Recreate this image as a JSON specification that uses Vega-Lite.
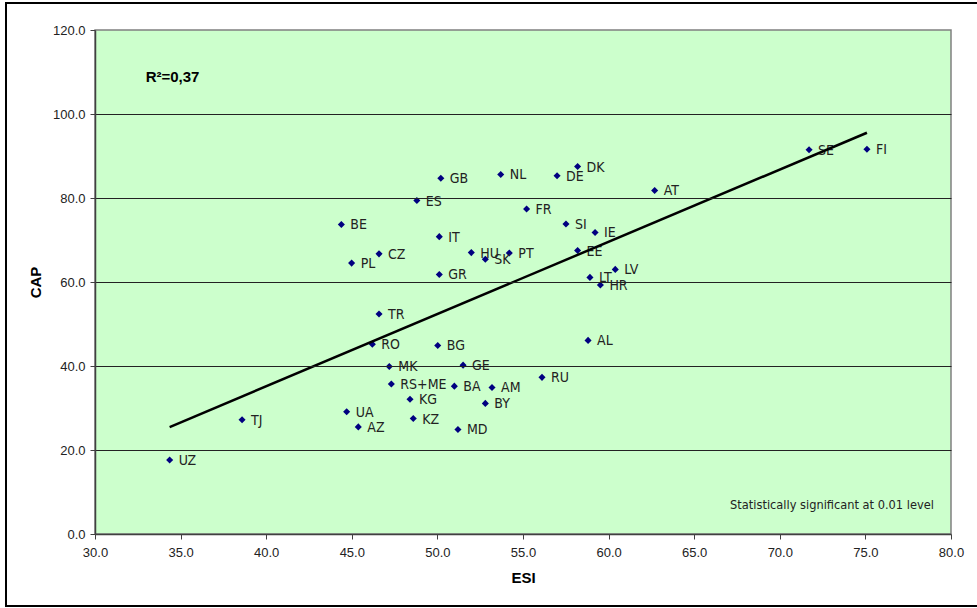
{
  "$schema": "https://vega.github.io/schema/vega-lite/v6.json",
  "width": 971,
  "height": 603,
  "autosize": {"type": "none"},
  "padding": {"left": 6, "top": 3, "right": 0, "bottom": 2},
  "background": "white",
  "view": {"stroke": "black", "strokeWidth": 2, "fill": "white", "strokeDash": [971, 603, 1574], "strokeCap": "butt"},
  "config": {
    "view": {"stroke": "black", "strokeWidth": 2, "fill": "white", "strokeDash": [971, 603, 1574]},
    "style": {"cell": {"strokeDash": [971, 603, 1574]}},
    "font": "Liberation Sans"
  },
  "data": {
    "values": [
      {"country": "UZ", "ESI": 34.36, "CAP": 17.6},
      {"country": "TJ", "ESI": 38.59, "CAP": 27.2},
      {"country": "UA", "ESI": 44.70, "CAP": 29.1},
      {"country": "AZ", "ESI": 45.38, "CAP": 25.5},
      {"country": "BE", "ESI": 44.39, "CAP": 73.7},
      {"country": "PL", "ESI": 44.99, "CAP": 64.5},
      {"country": "RO", "ESI": 46.20, "CAP": 45.2},
      {"country": "TR", "ESI": 46.59, "CAP": 52.4},
      {"country": "CZ", "ESI": 46.59, "CAP": 66.7},
      {"country": "MK", "ESI": 47.19, "CAP": 39.9},
      {"country": "RS+ME", "ESI": 47.31, "CAP": 35.7},
      {"country": "KG", "ESI": 48.40, "CAP": 32.1},
      {"country": "KZ", "ESI": 48.59, "CAP": 27.5},
      {"country": "ES", "ESI": 48.80, "CAP": 79.4},
      {"country": "BG", "ESI": 50.02, "CAP": 44.9},
      {"country": "IT", "ESI": 50.11, "CAP": 70.8},
      {"country": "GR", "ESI": 50.11, "CAP": 61.8},
      {"country": "GB", "ESI": 50.20, "CAP": 84.7},
      {"country": "BA", "ESI": 50.99, "CAP": 35.2},
      {"country": "MD", "ESI": 51.20, "CAP": 24.9},
      {"country": "GE", "ESI": 51.50, "CAP": 40.2},
      {"country": "HU", "ESI": 51.98, "CAP": 67.0},
      {"country": "SK", "ESI": 52.80, "CAP": 65.4},
      {"country": "BY", "ESI": 52.80, "CAP": 31.1},
      {"country": "AM", "ESI": 53.19, "CAP": 34.9},
      {"country": "NL", "ESI": 53.70, "CAP": 85.6},
      {"country": "PT", "ESI": 54.20, "CAP": 66.9},
      {"country": "FR", "ESI": 55.21, "CAP": 77.4},
      {"country": "RU", "ESI": 56.11, "CAP": 37.3},
      {"country": "DE", "ESI": 56.99, "CAP": 85.3},
      {"country": "SI", "ESI": 57.51, "CAP": 73.8},
      {"country": "DK", "ESI": 58.19, "CAP": 87.5},
      {"country": "EE", "ESI": 58.19, "CAP": 67.5},
      {"country": "AL", "ESI": 58.80, "CAP": 46.1},
      {"country": "LT", "ESI": 58.91, "CAP": 61.1},
      {"country": "IE", "ESI": 59.21, "CAP": 71.8},
      {"country": "HR", "ESI": 59.52, "CAP": 59.3},
      {"country": "LV", "ESI": 60.39, "CAP": 63.0},
      {"country": "AT", "ESI": 62.69, "CAP": 81.8},
      {"country": "SE", "ESI": 71.71, "CAP": 91.5},
      {"country": "FI", "ESI": 75.09, "CAP": 91.6}
    ]
  },
  "layer": [
    {
      "data": {"values": [{}]},
      "mark": {"type": "rect", "fill": "#CCFFCC", "stroke": "#808080", "strokeWidth": 1.5},
      "encoding": {
        "x": {"datum": 30, "type": "quantitative"},
        "x2": {"datum": 80},
        "y": {"datum": 0, "type": "quantitative"},
        "y2": {"datum": 120}
      }
    },
    {
      "mark": {"type": "point", "shape": "diamond", "filled": true, "color": "#000080", "size": 50, "opacity": 1},
      "encoding": {
        "x": {
          "field": "ESI", "type": "quantitative",
          "scale": {"domain": [30, 80], "range": [89, 945], "nice": false, "zero": false},
          "axis": {
            "title": "ESI", "values": [30, 35, 40, 45, 50, 55, 60, 65, 70, 75, 80], "format": ".1f",
            "offset": -72, "grid": false, "tickSize": 5, "tickColor": "#404040",
            "domainColor": "#404040", "domainWidth": 1.5, "labelFlush": false,
            "labelFont": "Liberation Sans", "labelFontSize": 13, "labelColor": "#222", "labelPadding": 7,
            "titleFont": "Liberation Sans", "titleFontWeight": "bold", "titleFontSize": 15, "titleColor": "#000",
            "titleX": 517, "titleY": 43.5, "titleBaseline": "middle", "titleAlign": "center", "zindex": 1
          }
        },
        "y": {
          "field": "CAP", "type": "quantitative",
          "scale": {"domain": [0, 120], "range": [531, 27], "nice": false, "zero": false},
          "axis": {
            "title": "CAP", "values": [0, 20, 40, 60, 80, 100, 120], "format": ".1f",
            "offset": -89, "grid": true, "labelFlush": false,
            "gridColor": {"condition": {"test": "datum.value === 0 || datum.value === 120", "value": "transparent"}, "value": "#222222"},
            "gridWidth": 1, "tickSize": 5, "tickColor": "#404040",
            "domainColor": "#404040", "domainWidth": 1.5,
            "labelFont": "Liberation Sans", "labelFontSize": 13, "labelColor": "#222", "labelPadding": 5,
            "titleFont": "Liberation Sans", "titleFontWeight": "bold", "titleFontSize": 15, "titleColor": "#000",
            "titleX": -60, "titleY": 279, "titleAngle": -90, "titleBaseline": "middle", "titleAlign": "center", "zindex": 1
          }
        }
      }
    },
    {
      "mark": {"type": "text", "align": "left", "baseline": "middle", "dx": 9, "dy": 1, "font": "DejaVu Sans Condensed", "fontSize": 14, "color": "#222"},
      "encoding": {
        "x": {"field": "ESI", "type": "quantitative"},
        "y": {"field": "CAP", "type": "quantitative"},
        "text": {"field": "country"}
      }
    },
    {
      "transform": [{"regression": "CAP", "on": "ESI"}],
      "mark": {"type": "line", "color": "black", "strokeWidth": 2.5},
      "encoding": {
        "x": {"field": "ESI", "type": "quantitative"},
        "y": {"field": "CAP", "type": "quantitative"}
      }
    },
    {
      "data": {"values": [{"label": "R²=0,37"}]},
      "mark": {"type": "text", "align": "left", "baseline": "middle", "fontWeight": "bold", "fontSize": 15, "font": "Liberation Sans", "color": "#000"},
      "encoding": {
        "x": {"datum": 32.96, "type": "quantitative"},
        "y": {"datum": 108.7, "type": "quantitative"},
        "text": {"field": "label"}
      }
    },
    {
      "data": {"values": [{"label": "Statistically significant at 0.01 level"}]},
      "mark": {"type": "text", "align": "right", "baseline": "middle", "fontSize": 12.7, "font": "DejaVu Sans Condensed", "color": "#222"},
      "encoding": {
        "x": {"datum": 79.0, "type": "quantitative"},
        "y": {"datum": 6.8, "type": "quantitative"},
        "text": {"field": "label"}
      }
    }
  ]
}
